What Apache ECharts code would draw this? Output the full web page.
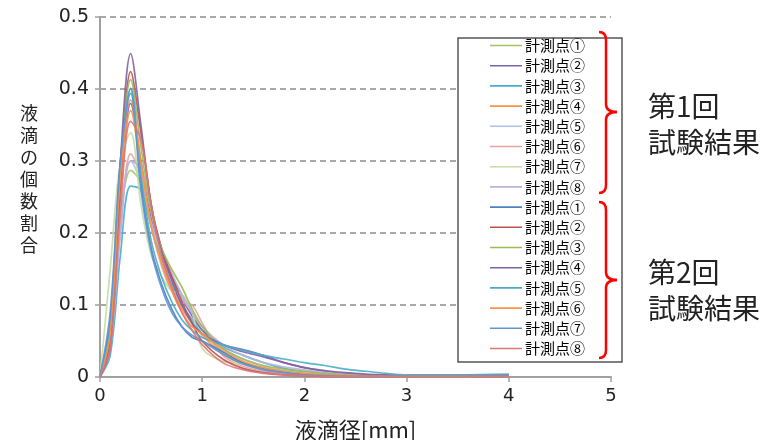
<!DOCTYPE html>
<html>
<head>
<meta charset="utf-8">
<script src="https://cdn.jsdelivr.net/npm/echarts@6/dist/echarts.min.js"></script>
<style>
  html, body { margin: 0; padding: 0; background: #fff; }
  #main { width: 771px; height: 440px; }
</style>
</head>
<body>
<div id="main"></div>
<script>
// 液滴径 (mm)
const diameters = [0, 0.1, 0.2, 0.3, 0.4, 0.5, 0.6, 0.7, 0.8, 0.9, 1.0, 1.2, 1.4, 1.6, 1.8, 2.0, 2.2, 2.4, 2.6, 2.8, 3.0, 3.5, 4.0];

const pointNames = ["計測点①", "計測点②", "計測点③", "計測点④", "計測点⑤", "計測点⑥", "計測点⑦", "計測点⑧"];

// 第1回 試験結果
const run1P1 = [0, 0.06, 0.22, 0.287, 0.27, 0.21, 0.17, 0.14, 0.115, 0.09, 0.065, 0.035, 0.02, 0.012, 0.008, 0.005, 0.003, 0.002, 0.002, 0.001, 0.001, 0.001, 0.002];
const run1P2 = [0, 0.05, 0.25, 0.38, 0.3, 0.22, 0.17, 0.14, 0.11, 0.085, 0.065, 0.045, 0.035, 0.028, 0.02, 0.013, 0.008, 0.005, 0.003, 0.002, 0.002, 0.002, 0.003];
const run1P3 = [0, 0.03, 0.17, 0.265, 0.26, 0.21, 0.165, 0.13, 0.1, 0.08, 0.06, 0.042, 0.03, 0.02, 0.012, 0.007, 0.005, 0.003, 0.002, 0.002, 0.001, 0.002, 0.003];
const run1P4 = [0, 0.07, 0.26, 0.37, 0.29, 0.21, 0.16, 0.125, 0.095, 0.075, 0.058, 0.032, 0.018, 0.01, 0.006, 0.004, 0.002, 0.002, 0.001, 0.001, 0.001, 0.001, 0.002];
const run1P5 = [0, 0.06, 0.22, 0.30, 0.27, 0.215, 0.17, 0.135, 0.11, 0.09, 0.07, 0.04, 0.025, 0.015, 0.009, 0.006, 0.004, 0.003, 0.002, 0.001, 0.001, 0.001, 0.002];
const run1P6 = [0, 0.05, 0.2, 0.31, 0.28, 0.21, 0.155, 0.12, 0.105, 0.1, 0.075, 0.03, 0.015, 0.008, 0.005, 0.003, 0.002, 0.001, 0.001, 0.001, 0.001, 0.001, 0.002];
const run1P7 = [0, 0.15, 0.3, 0.339, 0.24, 0.17, 0.14, 0.12, 0.115, 0.09, 0.04, 0.022, 0.018, 0.01, 0.007, 0.004, 0.002, 0.002, 0.001, 0.001, 0.001, 0.001, 0.002];
const run1P8 = [0, 0.04, 0.2, 0.30, 0.29, 0.23, 0.18, 0.145, 0.115, 0.09, 0.07, 0.045, 0.03, 0.02, 0.014, 0.01, 0.006, 0.004, 0.003, 0.002, 0.002, 0.002, 0.003];

// 第2回 試験結果
const run2P1 = [0, 0.08, 0.3, 0.401, 0.27, 0.18, 0.13, 0.095, 0.07, 0.055, 0.05, 0.035, 0.02, 0.012, 0.007, 0.004, 0.002, 0.002, 0.001, 0.001, 0.001, 0.001, 0.003];
const run2P2 = [0, 0.04, 0.27, 0.424, 0.34, 0.24, 0.18, 0.14, 0.105, 0.075, 0.05, 0.025, 0.012, 0.006, 0.003, 0.002, 0.001, 0.001, 0.001, 0.001, 0.001, 0.001, 0.001];
const run2P3 = [0, 0.06, 0.29, 0.413, 0.32, 0.23, 0.18, 0.15, 0.125, 0.095, 0.07, 0.04, 0.025, 0.016, 0.011, 0.008, 0.005, 0.003, 0.002, 0.002, 0.001, 0.001, 0.002];
const run2P4 = [0, 0.05, 0.3, 0.449, 0.35, 0.24, 0.175, 0.135, 0.1, 0.075, 0.06, 0.045, 0.038, 0.03, 0.02, 0.013, 0.009, 0.006, 0.004, 0.003, 0.002, 0.002, 0.003];
const run2P5 = [0, 0.07, 0.29, 0.40, 0.28, 0.19, 0.14, 0.105, 0.08, 0.065, 0.055, 0.045, 0.037, 0.03, 0.025, 0.02, 0.016, 0.011, 0.008, 0.005, 0.003, 0.003, 0.004];
const run2P6 = [0, 0.06, 0.28, 0.385, 0.3, 0.21, 0.16, 0.12, 0.09, 0.07, 0.06, 0.038, 0.022, 0.013, 0.008, 0.005, 0.003, 0.002, 0.001, 0.001, 0.001, 0.001, 0.002];
const run2P7 = [0, 0.09, 0.3, 0.394, 0.26, 0.175, 0.125, 0.09, 0.07, 0.058, 0.05, 0.032, 0.018, 0.01, 0.006, 0.003, 0.002, 0.001, 0.001, 0.001, 0.001, 0.001, 0.002];
const run2P8 = [0, 0.04, 0.23, 0.355, 0.33, 0.24, 0.17, 0.125, 0.09, 0.065, 0.045, 0.02, 0.01, 0.005, 0.003, 0.002, 0.001, 0.001, 0.001, 0.001, 0.001, 0.001, 0.001];

const run1 = [run1P1, run1P2, run1P3, run1P4, run1P5, run1P6, run1P7, run1P8];
const run2 = [run2P1, run2P2, run2P3, run2P4, run2P5, run2P6, run2P7, run2P8];

const run1Colors = ["#a3c466", "#7a62ae", "#45aed0", "#f5924a", "#aec3e3", "#e4a4a2", "#c6dca2", "#bdb0d9"];
const run2Colors = ["#4f81bd", "#c0504d", "#9bbb59", "#8064a2", "#4bacc6", "#f79646", "#5f93d6", "#e07673"];

const cjk = '"Noto Sans CJK JP", "Noto Sans", sans-serif';
const num = '"DejaVu Sans", "Noto Sans", sans-serif';

const makeSeries = (runNo, values, colors) =>
  values.map((ys, i) => ({
    name: runNo + "-" + pointNames[i],
    type: "line",
    smooth: 0.35,
    symbol: "none",
    data: diameters.map((d, k) => [d, ys[k]]),
    lineStyle: { width: 1.7, color: colors[i], opacity: 0.9 },
    itemStyle: { color: colors[i] },
  }));

const series = [...makeSeries(1, run1, run1Colors), ...makeSeries(2, run2, run2Colors)];

// 中括弧
const brace = (top, mid, bottom) => {
  const red = { stroke: "#ff0000", lineWidth: 2.5, fill: null };
  return [
    { type: "bezierCurve", shape: { x1: 599, y1: top, cpx1: 606, cpy1: top, x2: 606, y2: top + 8 }, style: red },
    { type: "line", shape: { x1: 606, y1: top + 8, x2: 606, y2: mid - 8 }, style: red },
    { type: "bezierCurve", shape: { x1: 606, y1: mid - 8, cpx1: 606, cpy1: mid, x2: 617, y2: mid }, style: red },
    { type: "bezierCurve", shape: { x1: 617, y1: mid, cpx1: 606, cpy1: mid, x2: 606, y2: mid + 8 }, style: red },
    { type: "line", shape: { x1: 606, y1: mid + 8, x2: 606, y2: bottom - 8 }, style: red },
    { type: "bezierCurve", shape: { x1: 606, y1: bottom - 8, cpx1: 606, cpy1: bottom, x2: 599, y2: bottom }, style: red },
  ].map((el) => ({ ...el, z: 5 }));
};

// 凡例の線アイコン (32x14 の枠の中央に細い線)
const lineIcon = "path://M0,0L0.01,0L0,0.01Z M0,6.2L32,6.2L32,7.8L0,7.8Z M32,14L31.99,14L32,13.99Z";

const chart = echarts.init(document.getElementById("main"), null, { renderer: "canvas" });
chart.setOption({
  animation: false,
  backgroundColor: "#fff",
  grid: { left: 100, right: 160, top: 17, bottom: 63, outerBoundsMode: "none" },
  xAxis: {
    type: "value",
    min: 0,
    max: 5,
    interval: 1,
    name: "液滴径[mm]",
    nameLocation: "middle",
    nameGap: 42,
    nameTextStyle: { fontFamily: cjk, fontSize: 22, color: "#222" },
    axisLine: { lineStyle: { color: "#a0a0a0", width: 2 } },
    axisTick: { show: true, length: 5, lineStyle: { color: "#a0a0a0", width: 1.5 } },
    axisLabel: { fontFamily: num, fontSize: 18, color: "#222", margin: 10 },
    splitLine: { show: false },
  },
  yAxis: {
    type: "value",
    min: 0,
    max: 0.5,
    interval: 0.1,
    axisLine: { show: true, lineStyle: { color: "#a0a0a0", width: 2 } },
    axisTick: { show: true, length: 5, lineStyle: { color: "#a0a0a0", width: 1.5 } },
    axisLabel: { fontFamily: num, fontSize: 19, color: "#222", margin: 11 },
    splitLine: { show: true, lineStyle: { color: "#8c8c8c", width: 1.5, type: [6, 4] } },
  },
  legend: {
    orient: "vertical",
    left: 490,
    top: 38,
    padding: 0,
    z: 6,
    icon: lineIcon,
    itemWidth: 32,
    itemHeight: 14,
    itemGap: 5.2,
    textStyle: { fontFamily: cjk, fontSize: 15, lineHeight: 14, color: "#000", padding: [0, 0, 0, -2] },
    formatter: (n) => n.split("-")[1],
    data: series.map((s) => s.name),
  },
  graphic: [
    { type: "rect", shape: { x: 458, y: 38, width: 164, height: 324 }, style: { fill: "#fff", stroke: "#555", lineWidth: 1.5 }, z: 4 },
    ...brace(32, 112, 193),
    ...brace(202, 280, 358),
    {
      type: "text",
      x: 648,
      y: 88,
      style: { text: "第1回\n試験結果", font: "28px " + cjk, lineHeight: 36, fill: "#222", textVerticalAlign: "top" },
    },
    {
      type: "text",
      x: 648,
      y: 254,
      style: { text: "第2回\n試験結果", font: "28px " + cjk, lineHeight: 36, fill: "#222", textVerticalAlign: "top" },
    },
    {
      type: "text",
      x: 29,
      y: 102,
      style: { text: "液\n滴\nの\n個\n数\n割\n合", font: "18px " + cjk, lineHeight: 22, fill: "#222", textAlign: "center", textVerticalAlign: "top" },
    },
  ],
  series: series,
});
</script>
</body>
</html>
